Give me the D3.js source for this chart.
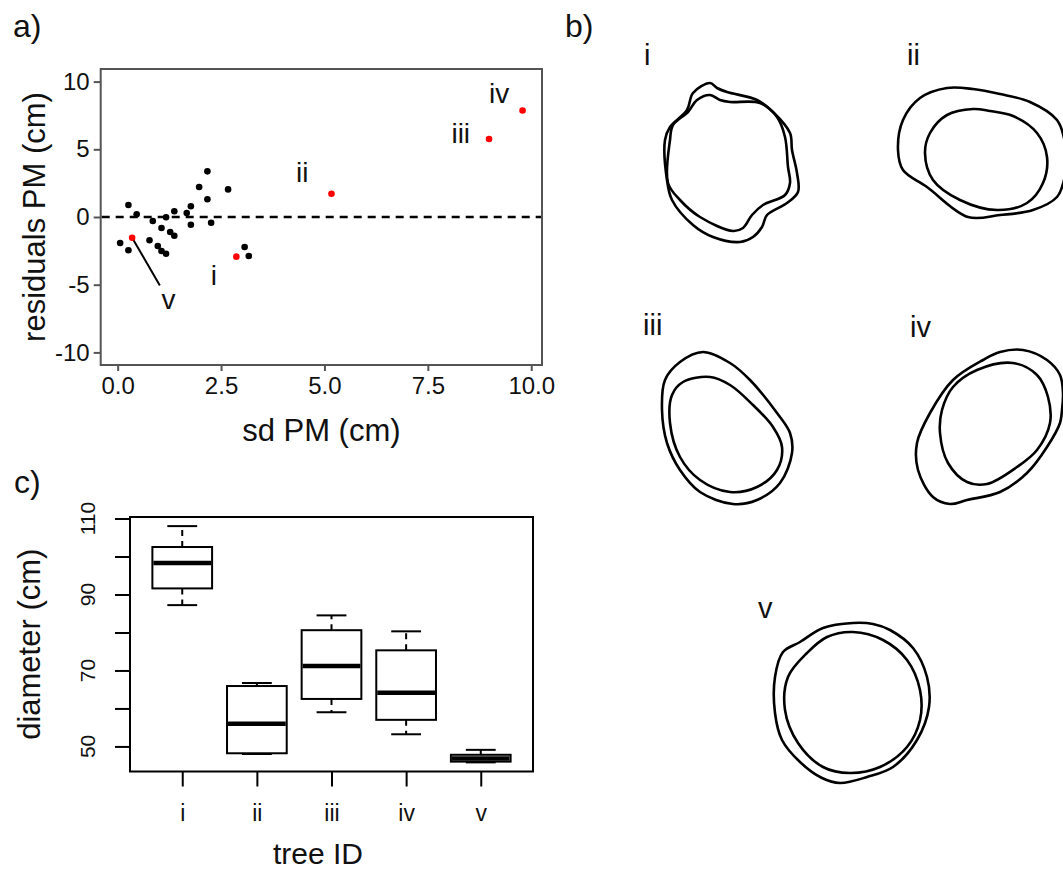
<!DOCTYPE html>
<html>
<head>
<meta charset="utf-8">
<script src="https://cdn.jsdelivr.net/npm/d3@7"></script>
<style>
    body { margin: 0; background: #fff; }
    svg { display: block; font-family: "Liberation Sans", Arial, sans-serif; }
</style>
</head>
<body>
<div id="fig"></div>
<script>
// ---- panel a data: residuals vs sd of PM ----
const blackSd = [0.06, 0.26, 0.26, 0.46, 0.77, 0.85, 0.97, 1.06, 1.06, 1.17, 1.17, 1.27,
    1.37, 1.37, 1.67, 1.77, 1.77, 1.97, 2.17, 2.17, 2.26, 2.67, 3.07, 3.17];
const blackResid = [-1.92, -2.46, 0.89, 0.20, -1.72, -0.30, -2.14, -0.81, -2.51, -2.71, -0.02, -1.11,
    -1.38, 0.42, 0.30, 0.79, -0.57, 2.22, 3.37, 1.31, -0.42, 2.04, -2.22, -2.88];
const treeIds = ["i", "ii", "iii", "iv", "v"];
const redSd = [2.87, 5.17, 8.98, 9.79, 0.35];
const redResid = [-2.93, 1.72, 5.76, 7.86, -1.53];
const labelSd = [2.25, 4.31, 8.07, 8.98, 1.06];
const labelResid = [-5.05, 2.58, 5.47, 8.43, -6.77];
const pointerEnd = [1.02, -5.05];
const sdTicks = [0, 2.5, 5, 7.5, 10];
const residTicks = [-10, -5, 0, 5, 10];

// ---- panel c data: diameter boxplots ----
const whiskerLow = [87.2, 48.0, 59.0, 53.2, 45.8];
const q1 = [91.6, 48.2, 62.5, 57.0, 46.0];
const median = [98.3, 56.0, 71.2, 64.1, 46.8];
const q3 = [102.5, 65.9, 80.6, 75.3, 47.8];
const whiskerHigh = [108.0, 66.7, 84.5, 80.3, 49.1];
const diamTicks = [50, 60, 70, 80, 90, 100, 110];
const diamLabels = [50, 70, 90, 110];

// ---- panel b data: stem outlines (relative to each section's centre) ----
const outlineIOuter = [[-22, -79], [-39, -69], [-45, -52], [-62, -35], [-67, -22], [-65, 18], [-60, 38],
    [-39, 63], [-19, 75], [8, 80], [21, 75], [30, 65], [35, 53], [55, 41], [66, 30], [65, 11],
    [60, -12], [58, -29], [41, -50], [25, -62], [-5, -70], [-15, -74]];
const outlineIInner = [[-22, -67], [-35, -62], [-44, -50], [-59, -37], [-62, -22], [-64, 21], [-52, 38],
    [-32, 55], [1, 69], [11, 66], [20, 53], [31, 43], [53, 33], [58, 21], [56, 5], [53, -25],
    [45, -45], [28, -59], [-2, -60], [-12, -62]];
const outlineIIOuter = [[-38, -64], [-65, -54], [-82, -32], [-87, -2], [-82, 18], [-58, 35], [-17, 65],
    [15, 63], [48, 58], [72, 45], [79, 28], [82, 8], [79, -14], [72, -32], [45, -50], [15, -58], [-12, -63]];
const outlineIIInner = [[-12, -43], [-38, -37], [-55, -19], [-60, 1], [-52, 28], [-25, 48], [12, 58],
    [42, 51], [58, 31], [62, 5], [52, -19], [28, -36], [5, -41]];
const outlineIIIOuter = [[-24, -76], [-47, -66], [-62, -48], [-65, -18], [-60, 15], [-47, 42], [-27, 64],
    [6, 76], [30, 72], [53, 55], [65, 25], [63, 5], [50, -15], [23, -48], [3, -65]];
const outlineIIIInner = [[-17, -51], [-44, -46], [-55, -33], [-57, -5], [-47, 29], [-27, 52], [3, 64],
    [30, 59], [50, 42], [55, 19], [46, -1], [26, -23], [3, -43]];
const outlineIVOuter = [[7, -76], [30, -78], [54, -68], [67, -53], [70, -35], [69, -18], [67, -5], [54, 19],
    [34, 45], [7, 64], [-26, 72], [-43, 76], [-60, 69], [-75, 42], [-76, 15], [-63, -15], [-40, -48], [-10, -68]];
const outlineIVInner = [[20, -65], [44, -53], [55, -31], [57, -5], [44, 22], [24, 39], [-6, 56], [-26, 54],
    [-45, 35], [-53, 5], [-51, -18], [-40, -41], [-16, -58]];
const outlineVOuter = [[1, -80], [-29, -75], [-52, -61], [-69, -51], [-77, -26], [-77, 10], [-70, 37],
    [-52, 59], [-30, 75], [-12, 80], [15, 74], [41, 64], [65, 37], [77, 4], [75, -26], [61, -55], [38, -73], [21, -79]];
const outlineVInner = [[1, -71], [-25, -66], [-45, -50], [-64, -26], [-67, 7], [-54, 40], [-29, 64],
    [-2, 70], [28, 64], [55, 44], [68, 17], [68, -13], [55, -43], [31, -63]];

const WIDTH = 1063, HEIGHT = 873;
const FONT = '"Liberation Sans", Arial, sans-serif';

const svg = d3.select("#fig").append("svg")
    .attr("width", WIDTH)
    .attr("height", HEIGHT);
svg.append("rect").attr("width", WIDTH).attr("height", HEIGHT).attr("fill", "#fff");

function styleAxis(g, size, color) {
    g.attr("font-family", FONT).attr("font-size", size);
    g.select(".domain").remove();
    g.selectAll(".tick line").attr("stroke", color).attr("stroke-width", 2);
    g.selectAll(".tick text").attr("fill", "#111");
}

// ================= panel a =================
const pa = { left: 100.7, right: 542, top: 69, bottom: 365 };
const xA = d3.scaleLinear().domain([-0.41, 10.26]).range([pa.left, pa.right]);
const yA = d3.scaleLinear().domain([-10.93, 10.93]).range([pa.bottom, pa.top]);

// plain hyphen minus, as in the original figure
svg.append("g")
    .attr("transform", `translate(${pa.left}, 0)`)
    .call(d3.axisLeft(yA).tickValues(residTicks).tickSize(7).tickPadding(4).tickFormat(d => String(d)))
    .call(g => styleAxis(g, 24, "#555"));
svg.append("g")
    .attr("transform", `translate(0, ${pa.bottom})`)
    .call(d3.axisBottom(xA).tickValues(sdTicks).tickFormat(d => d.toFixed(1)).tickSize(6).tickPadding(6))
    .call(g => styleAxis(g, 24, "#555"));

svg.append("rect")
    .attr("x", pa.left).attr("y", pa.top)
    .attr("width", pa.right - pa.left).attr("height", pa.bottom - pa.top)
    .attr("fill", "none").attr("stroke", "#555").attr("stroke-width", 2);

// zero line
svg.append("line")
    .attr("x1", pa.left + 1).attr("x2", pa.right - 1)
    .attr("y1", yA(0)).attr("y2", yA(0))
    .attr("stroke", "#000").attr("stroke-width", 2.4)
    .attr("stroke-dasharray", "8,6");

// pointer from tree v
svg.append("line")
    .attr("x1", xA(redSd[4])).attr("y1", yA(redResid[4]))
    .attr("x2", xA(pointerEnd[0])).attr("y2", yA(pointerEnd[1]))
    .attr("stroke", "#000").attr("stroke-width", 2);

svg.selectAll(".dot-black")
    .data(blackSd.map((d, i) => [d, blackResid[i]]))
    .join("circle")
    .attr("class", "dot-black")
    .attr("cx", d => xA(d[0]))
    .attr("cy", d => yA(d[1]))
    .attr("r", 3.3)
    .attr("fill", "#000");

svg.selectAll(".dot-red")
    .data(redSd.map((d, i) => [d, redResid[i]]))
    .join("circle")
    .attr("class", "dot-red")
    .attr("cx", d => xA(d[0]))
    .attr("cy", d => yA(d[1]))
    .attr("r", 3.3)
    .attr("fill", "#f00");

svg.selectAll(".tree-label-a")
    .data(treeIds)
    .join("text")
    .attr("class", "tree-label-a")
    .attr("x", (d, i) => xA(labelSd[i]))
    .attr("y", (d, i) => yA(labelResid[i]))
    .attr("font-size", 28)
    .attr("fill", "#111")
    .text(d => d);

svg.append("text")
    .attr("transform", `translate(45, ${(pa.top + pa.bottom) / 2}) rotate(-90)`)
    .attr("text-anchor", "middle")
    .attr("font-size", 31)
    .attr("fill", "#111")
    .text("residuals PM (cm)");
svg.append("text")
    .attr("x", (pa.left + pa.right) / 2)
    .attr("y", 441)
    .attr("text-anchor", "middle")
    .attr("font-size", 31)
    .attr("fill", "#111")
    .text("sd PM (cm)");

// ================= panel c =================
const pc = { left: 130, right: 533, top: 517, bottom: 771.5 };
const xC = d3.scaleLinear().domain([0.3, 5.7]).range([pc.left, pc.right]);
const yC = d3.scaleLinear().domain([43.4, 110.4]).range([pc.bottom, pc.top]);

svg.append("g")
    .attr("transform", `translate(${pc.left}, 0)`)
    .call(d3.axisLeft(yC).tickValues(diamTicks).tickSize(15).tickFormat(""))
    .call(g => styleAxis(g, 20, "#000"));
svg.append("g")
    .attr("transform", `translate(0, ${pc.bottom})`)
    .call(d3.axisBottom(xC).tickValues(d3.range(1, treeIds.length + 1)).tickSize(15)
        .tickPadding(18).tickFormat(d => treeIds[d - 1]))
    .call(g => styleAxis(g, 23, "#000"));

svg.selectAll(".diam-label")
    .data(diamLabels)
    .join("text")
    .attr("class", "diam-label")
    .attr("transform", d => `translate(95, ${yC(d)}) rotate(-90)`)
    .attr("text-anchor", "middle")
    .attr("font-size", 21)
    .attr("fill", "#111")
    .text(d => d);

svg.append("rect")
    .attr("x", pc.left).attr("y", pc.top)
    .attr("width", pc.right - pc.left).attr("height", pc.bottom - pc.top)
    .attr("fill", "none").attr("stroke", "#000").attr("stroke-width", 2);

const boxes = svg.selectAll(".box")
    .data(treeIds.map((id, i) => ({ pos: i + 1, lo: whiskerLow[i], q1: q1[i], med: median[i], q3: q3[i], hi: whiskerHigh[i] })))
    .join("g")
    .attr("class", "box");

// whiskers (dashed)
boxes.append("line")
    .attr("x1", d => xC(d.pos)).attr("x2", d => xC(d.pos))
    .attr("y1", d => yC(d.q3)).attr("y2", d => yC(d.hi))
    .attr("stroke", "#000").attr("stroke-width", 2).attr("stroke-dasharray", "6,5");
boxes.append("line")
    .attr("x1", d => xC(d.pos)).attr("x2", d => xC(d.pos))
    .attr("y1", d => yC(d.q1)).attr("y2", d => yC(d.lo))
    .attr("stroke", "#000").attr("stroke-width", 2).attr("stroke-dasharray", "6,5");
// staples
boxes.append("line")
    .attr("x1", d => xC(d.pos - 0.2)).attr("x2", d => xC(d.pos + 0.2))
    .attr("y1", d => yC(d.hi)).attr("y2", d => yC(d.hi))
    .attr("stroke", "#000").attr("stroke-width", 2);
boxes.append("line")
    .attr("x1", d => xC(d.pos - 0.2)).attr("x2", d => xC(d.pos + 0.2))
    .attr("y1", d => yC(d.lo)).attr("y2", d => yC(d.lo))
    .attr("stroke", "#000").attr("stroke-width", 2);
// box
boxes.append("rect")
    .attr("x", d => xC(d.pos - 0.4))
    .attr("y", d => yC(d.q3))
    .attr("width", d => xC(d.pos + 0.4) - xC(d.pos - 0.4))
    .attr("height", d => yC(d.q1) - yC(d.q3))
    .attr("fill", "#fff").attr("stroke", "#000").attr("stroke-width", 2);
// median
boxes.append("line")
    .attr("x1", d => xC(d.pos - 0.4) + 1).attr("x2", d => xC(d.pos + 0.4) - 1)
    .attr("y1", d => yC(d.med)).attr("y2", d => yC(d.med))
    .attr("stroke", "#000").attr("stroke-width", 4.5);

svg.append("text")
    .attr("transform", `translate(40, ${(pc.top + pc.bottom) / 2}) rotate(-90)`)
    .attr("text-anchor", "middle")
    .attr("font-size", 31)
    .attr("fill", "#111")
    .text("diameter (cm)");
svg.append("text")
    .attr("x", 318)
    .attr("y", 864)
    .attr("text-anchor", "middle")
    .attr("font-size", 30)
    .attr("fill", "#111")
    .text("tree ID");

// ================= panel b =================
const sections = [
    { id: "i", outer: outlineIOuter, inner: outlineIInner },
    { id: "ii", outer: outlineIIOuter, inner: outlineIIInner },
    { id: "iii", outer: outlineIIIOuter, inner: outlineIIIInner },
    { id: "iv", outer: outlineIVOuter, inner: outlineIVInner },
    { id: "v", outer: outlineVOuter, inner: outlineVInner }
];
const sectionCentres = { i: [732, 162], ii: [985, 152], iii: [727, 428], iv: [993, 428], v: [852, 703] };
const sectionLabelPos = { i: [644, 65], ii: [907, 65], iii: [643, 335], iv: [910, 337], v: [758, 618] };

sections.forEach(function (s) {
    const c = sectionCentres[s.id];
    const sx = d3.scaleLinear().domain([-100, 100]).range([c[0] - 100, c[0] + 100]);
    const sy = d3.scaleLinear().domain([-100, 100]).range([c[1] - 100, c[1] + 100]);
    const outline = d3.line()
        .x(d => sx(d[0]))
        .y(d => sy(d[1]))
        .curve(d3.curveCatmullRomClosed.alpha(0.5));
    [s.outer, s.inner].forEach(function (pts) {
        svg.append("path")
            .attr("d", outline(pts))
            .attr("fill", "none")
            .attr("stroke", "#000")
            .attr("stroke-width", 2.6)
            .attr("stroke-linejoin", "round");
    });
    svg.append("text")
        .attr("x", sectionLabelPos[s.id][0])
        .attr("y", sectionLabelPos[s.id][1])
        .attr("font-size", 29)
        .attr("fill", "#111")
        .text(s.id);
});

// panel letters
[["a)", 13, 37], ["b)", 565, 37], ["c)", 14, 493]].forEach(function (p) {
    svg.append("text")
        .attr("x", p[1]).attr("y", p[2])
        .attr("font-size", 32)
        .attr("fill", "#111")
        .text(p[0]);
});
</script>
</body>
</html>
